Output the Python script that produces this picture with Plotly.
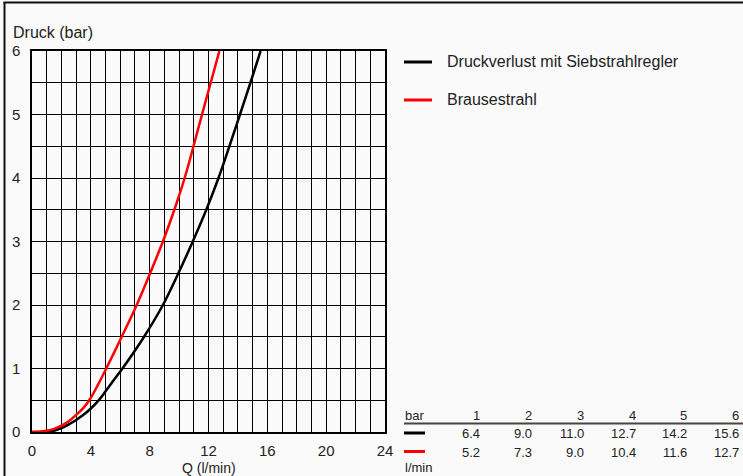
import plotly.graph_objects as go

# ---- data ----
black_name = "Druckverlust mit Siebstrahlregler"
red_name = "Brausestrahl"

black_q = [0, 1.0, 1.5, 2.0, 2.5, 3.0, 3.5, 4.0, 4.5, 5.0, 5.5, 6.15, 7.62, 8.9, 9.95, 10.93, 11.85, 12.68, 13.42, 14.14, 14.85, 15.54]
black_p = [0, 0.005, 0.02, 0.06, 0.12, 0.19, 0.27, 0.37, 0.49, 0.64, 0.80, 1.0, 1.5, 2.0, 2.5, 3.0, 3.5, 4.0, 4.5, 5.0, 5.5, 6.0]

red_q = [0, 0.5, 1.0, 1.5, 2.0, 2.5, 3.0, 3.5, 4.0, 4.5, 5.05, 6.1, 7.12, 8.03, 8.9, 9.68, 10.38, 10.98, 11.56, 12.15, 12.74]
red_p = [0, 0.004, 0.02, 0.05, 0.10, 0.17, 0.27, 0.38, 0.54, 0.75, 1.0, 1.5, 2.0, 2.5, 3.0, 3.5, 4.0, 4.5, 5.0, 5.5, 6.0]

table_bar = [1, 2, 3, 4, 5, 6]
table_black = ["6.4", "9.0", "11.0", "12.7", "14.2", "15.6"]
table_red = ["5.2", "7.3", "9.0", "10.4", "11.6", "12.7"]

x_ticks = [0, 4, 8, 12, 16, 20, 24]
y_ticks = [0, 1, 2, 3, 4, 5, 6]

# ---- layout geometry ----
WIDTH, HEIGHT = 743, 476
L, R, T, B = 32, 358, 51, 44
PW, PH = WIDTH - L - R, HEIGHT - T - B


def px(x):
    return (x - L) / PW


def py(y):
    return (HEIGHT - B - y) / PH


FONT = "Liberation Sans, Arial, sans-serif"
TXT = "#222222"
BG = "#fafafa"

fig = go.Figure()
fig.add_trace(go.Scatter(x=black_q, y=black_p, mode="lines", name=black_name,
                         line=dict(color="#000000", width=2.5, shape="spline", smoothing=1.0),
                         showlegend=False))
fig.add_trace(go.Scatter(x=red_q, y=red_p, mode="lines", name=red_name,
                         line=dict(color="#ff0000", width=2.5, shape="spline", smoothing=1.0),
                         showlegend=False))

annotations = []
shapes = []

# axis titles
annotations.append(dict(x=px(11), y=py(32), xref="paper", yref="paper", text="Druck (bar)",
                        showarrow=False, xanchor="left", yanchor="middle",
                        font=dict(family=FONT, size=16, color=TXT)))
annotations.append(dict(x=px(209), y=py(468), xref="paper", yref="paper", text="Q (l/min)",
                        showarrow=False, xanchor="center", yanchor="middle",
                        font=dict(family=FONT, size=14, color=TXT)))

# legend
for name, color, ypix in [(black_name, "#000000", 62), (red_name, "#ff0000", 100)]:
    shapes.append(dict(type="line", xref="paper", yref="paper", x0=px(404), x1=px(432),
                       y0=py(ypix), y1=py(ypix), line=dict(color=color, width=3)))
    annotations.append(dict(x=px(445), y=py(ypix), xref="paper", yref="paper", text=name,
                            showarrow=False, xanchor="left", yanchor="middle",
                            font=dict(family=FONT, size=16, color=TXT)))

# table
col_right = [482, 534, 586, 638, 689, 741]
annotations.append(dict(x=px(403), y=py(415), xref="paper", yref="paper", text="bar",
                        showarrow=False, xanchor="left", yanchor="middle",
                        font=dict(family=FONT, size=13, color=TXT)))
for i, b in enumerate(table_bar):
    for txt, ypix in [(str(b), 415), (table_black[i], 433.5), (table_red[i], 452)]:
        annotations.append(dict(x=px(col_right[i]), y=py(ypix), xref="paper", yref="paper",
                                text=txt, showarrow=False, xanchor="right", yanchor="middle",
                                font=dict(family=FONT, size=13, color=TXT)))
shapes.append(dict(type="line", xref="paper", yref="paper", x0=px(404), x1=px(743),
                   y0=py(423.5), y1=py(423.5), line=dict(color="#444444", width=2)))
for color, ypix in [("#000000", 433), ("#ff0000", 451.5)]:
    shapes.append(dict(type="line", xref="paper", yref="paper", x0=px(404), x1=px(425),
                       y0=py(ypix), y1=py(ypix), line=dict(color=color, width=3)))
annotations.append(dict(x=px(403), y=py(467.5), xref="paper", yref="paper", text="l/min",
                        showarrow=False, xanchor="left", yanchor="middle",
                        font=dict(family=FONT, size=13, color=TXT)))

# outer frame (top and left edges visible)
shapes.append(dict(type="line", xref="paper", yref="paper", x0=px(3.5), x1=px(743),
                   y0=py(2.5), y1=py(2.5), line=dict(color="#111111", width=2), layer="above"))
shapes.append(dict(type="line", xref="paper", yref="paper", x0=px(4.5), x1=px(4.5),
                   y0=py(2), y1=py(476), line=dict(color="#111111", width=2), layer="above"))

axis_common = dict(showgrid=True, gridcolor="#000000", gridwidth=1.3, zeroline=False,
                   showline=True, linecolor="#000000", linewidth=1.5, mirror=True,
                   ticks="", tickfont=dict(family=FONT, size=15, color=TXT))

fig.update_layout(
    width=WIDTH, height=HEIGHT,
    margin=dict(l=L, r=R, t=T, b=B, pad=0),
    paper_bgcolor=BG, plot_bgcolor=BG,
    xaxis=dict(range=[0, 24], tickvals=x_ticks, ticklabelstandoff=4,
               minor=dict(dtick=1, showgrid=True, gridcolor="#000000", gridwidth=1.3),
               **axis_common),
    yaxis=dict(range=[0, 6], tickvals=y_ticks, ticklabelstandoff=7,
               minor=dict(dtick=0.5, showgrid=True, gridcolor="#000000", gridwidth=1.3),
               **axis_common),
    annotations=annotations,
    shapes=shapes,
    showlegend=False,
)

fig.write_html(
    "out.html",
    config={"displayModeBar": False},
    post_script="document.body.style.margin='0px';document.body.style.overflow='hidden';",
)
